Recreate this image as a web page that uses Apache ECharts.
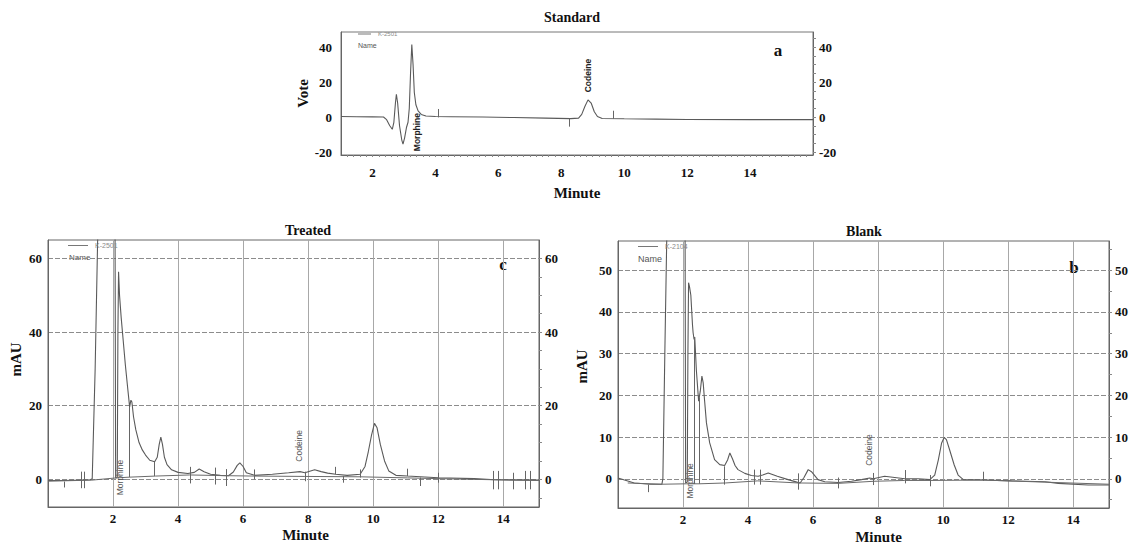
<!DOCTYPE html>
<html><head><meta charset="utf-8">
<script src="https://cdn.jsdelivr.net/npm/echarts@6/dist/echarts.min.js"></script>
<style>html,body{margin:0;padding:0;background:#fff}#c{width:1129px;height:545px}</style>
</head><body><div id="c"></div>
<script>
// ---------- data (minute, signal) ----------
const standardSignal = [[1.0,0.3],[1.5,0.2],[2.0,0.1],[2.35,0],[2.45,-1.5],[2.55,-5],[2.63,-7],[2.68,-3],[2.73,8],[2.76,13],[2.8,8],[2.86,-5],[2.93,-13],[2.97,-15.5],[3.02,-12],[3.08,-6],[3.13,-3],[3.17,5],[3.21,25],[3.25,41.5],[3.29,30],[3.33,14],[3.38,7],[3.45,3.5],[3.55,1.5],[3.7,0.6],[4.0,0.3],[4.5,0.2],[5.5,0],[6.5,-0.3],[7.5,-0.6],[8.3,-0.9],[8.55,-0.6],[8.65,1.5],[8.75,6],[8.85,9.8],[8.95,8],[9.05,3],[9.15,0.3],[9.3,-0.8],[10.0,-1.0],[11.0,-1.2],[12.0,-1.4],[14.0,-1.5],[16.0,-1.5]];
const treatedSignal = [[0,-0.3],[0.5,-0.3],[1.0,-0.2],[1.3,-0.1],[1.36,0.2],[1.45,30],[1.52,62],[1.55,75],[1.7,90],[2.0,90],[2.06,75],[2.08,0.4],[2.13,0.5],[2.15,40],[2.17,56.4],[2.2,50],[2.25,44],[2.31,38],[2.38,31],[2.46,24],[2.51,19.7],[2.55,21.5],[2.58,21],[2.63,17],[2.7,13.5],[2.8,10],[2.9,8],[3.0,6.6],[3.13,5.2],[3.28,4.8],[3.36,6],[3.42,9.5],[3.47,11.5],[3.52,9.5],[3.58,6],[3.66,4],[3.8,2.6],[4.0,1.9],[4.3,1.6],[4.5,1.9],[4.65,2.8],[4.8,2.1],[5.0,1.4],[5.3,1.1],[5.55,1.0],[5.7,2],[5.82,3.8],[5.9,4.5],[6.0,3.5],[6.1,1.8],[6.35,1.1],[6.9,1.4],[7.4,1.8],[7.75,2.1],[7.9,1.8],[8.05,2.2],[8.2,2.6],[8.4,2.1],[8.6,1.7],[8.85,1.4],[9.2,1.1],[9.6,1.4],[9.75,3.5],[9.85,7.5],[9.95,12],[10.04,15.2],[10.12,14],[10.22,9.5],[10.35,5],[10.48,2.3],[10.7,1.1],[11.05,0.9],[12.0,0.45],[13.1,0.2],[13.75,-0.1],[15.1,-0.2]];
const blankSignal = [[0,0.2],[0.2,-0.3],[0.5,-1.0],[1.0,-1.3],[1.35,-1.3],[1.38,0],[1.44,30],[1.5,58],[1.6,80],[2.0,80],[2.06,70],[2.08,-1.0],[2.13,-0.8],[2.15,30],[2.17,47],[2.2,46],[2.24,44],[2.29,37],[2.31,35],[2.34,33.4],[2.36,34],[2.41,26],[2.48,18.6],[2.53,21],[2.58,24.6],[2.62,23],[2.66,19],[2.72,13.4],[2.82,8.6],[2.97,4.6],[3.13,3.4],[3.28,3.2],[3.37,4.5],[3.44,6.2],[3.52,4.8],[3.6,3.2],[3.69,2.2],[3.9,1.3],[4.1,0.8],[4.31,0.6],[4.45,0.9],[4.62,1.4],[4.9,0.6],[5.23,-0.2],[5.5,-0.8],[5.6,-1.0],[5.72,0.3],[5.85,2.2],[5.95,1.7],[6.15,-0.2],[6.36,-0.7],[6.77,-0.9],[7.18,-0.6],[7.49,-0.2],[7.74,0.2],[7.85,0],[8.2,0.6],[8.51,0.3],[8.82,0],[9.23,0],[9.59,-0.2],[9.74,0.9],[9.85,4.5],[9.95,8.5],[10.03,9.9],[10.1,9.4],[10.2,6.9],[10.34,3.3],[10.46,0.9],[10.62,-0.2],[11.23,-0.3],[12.1,-0.5],[13.13,-0.7],[13.54,-1.1],[14.46,-1.5],[15.1,-1.5]];
const treatedBaseline = [[0,-0.5],[1.35,-0.2],[2.1,0.4],[2.5,0.6],[3.3,0.9],[4.36,1.2],[5.5,1.0],[6.35,0.9],[7.9,0.8],[9.6,0.7],[11.05,0.4],[12,0.2],[13.7,-0.1],[15.1,-0.3]];
const blankBaseline = [[0.3,-1.0],[1.35,-1.3],[2.1,-1.2],[2.5,-1.2],[3.3,-1.0],[4.3,-0.5],[5.55,-1.0],[6.77,-1.1],[7.85,-0.6],[8.82,-0.4],[9.6,-0.4],[11.23,-0.3],[13.5,-0.9],[15.1,-1.3]];
// integration marks: [minute, from, to]
const standardMarks = [[4.1,-0.2,4.6],[8.25,-5.5,-1],[9.64,-1,3.6]];
const treatedMarks = [[0.51,-2.2,-0.6],[1.03,-2.4,2.1],[1.13,-2.4,2.1],[2.51,0.6,19.7],[3.28,0.9,4.8],[4.36,-1.1,3.4],[5.13,-1.4,3.2],[5.49,-1.8,2.8],[6.35,0,2.7],[7.9,-0.5,2.1],[8.83,1.4,3.4],[9.09,-0.9,0.9],[9.6,0.5,2.7],[11.05,0.9,2.9],[11.46,-1.8,0.5],[12.0,-0.9,1.8],[13.69,-2.7,2.3],[13.85,-2.7,2.3],[14.31,-2.7,1.8],[14.67,-2.7,2.3],[14.83,-2.7,2.3]];
const blankMarks = [[0.92,-3.2,-1.4],[2.36,-1.2,34],[2.51,-1.2,19.5],[3.28,-1.4,3],[4.2,-1.4,2.2],[4.36,-1.4,2.2],[5.54,-2.6,1.3],[6.77,-2.3,0.3],[7.85,-1.5,1.4],[8.82,-1.1,2.1],[9.59,-1.8,0.9],[11.23,-0.5,1.7]];
// peak labels: [name, minute, position]
const standardPeaks = [['Morphine',3.4,-8.6],['Codeine',8.85,23.7]];
const treatedPeaks = [['Morphine',2.22,0.5],['Codeine',7.73,9.1]];
const blankPeaks = [['Morphine',2.2,-0.5],['Codeine',7.72,6.9]];
// tick labels
const minuteTicks = [2,4,6,8,10,12,14];
const standardYTicks = [-20,0,20,40];
const treatedYTicks = [0,20,40,60];
const blankYTicks = [0,10,20,30,40,50];
const legendNames = {Standard:'K-2501', Treated:'K-2501', Blank:'K-2104'};

// ---------- helpers ----------
const SERIF = '"Liberation Serif","DejaVu Serif",serif';
const SANS = '"Liberation Sans","DejaVu Sans",sans-serif';
function steps(a,b,s){const o=[];for(let v=a;v<=b+1e-9;v+=s)o.push(+v.toFixed(3));return o;}
const lblStyle = {fontFamily:SERIF,fontWeight:'bold',fontSize:13,color:'#111'};
const nameStyle = {fontFamily:SERIF,fontWeight:'bold',fontSize:15,color:'#111'};

function xAxisCfg(gi,min,max,margin,nameGap,namePad,grid,minor){
  return {type:'value',gridIndex:gi,min,max,position:'bottom',
    name:'Minute',nameLocation:'middle',nameGap,nameTextStyle:Object.assign({padding:namePad},nameStyle),
    axisLine:{show:true,onZero:false,lineStyle:{color:'#666'}},
    axisTick:{show:!!minor,customValues:minor||minuteTicks,length:2,lineStyle:{color:'#888'}},
    axisLabel:Object.assign({customValues:minuteTicks,margin},lblStyle),
    splitLine:{show:grid,lineStyle:{color:'#a8a8a8',width:1}}};
}
function yLeft(gi,min,max,ticks,name,nameGap,namePad,margin,grid){
  return {type:'value',gridIndex:gi,min,max,position:'left',
    name,nameLocation:'middle',nameGap,nameTextStyle:Object.assign({padding:namePad},nameStyle),
    axisLine:{show:true,lineStyle:{color:'#666'}},
    axisTick:{show:false,customValues:ticks},
    axisLabel:Object.assign({customValues:ticks,margin},lblStyle),
    splitLine:{show:grid,lineStyle:{color:'#8c8c8c',width:1,type:[5,2]}}};
}
function yRight(gi,min,max,ticks,minor,margin){
  return {type:'value',gridIndex:gi,min,max,position:'right',
    axisLine:{show:true,lineStyle:{color:'#666'}},
    axisTick:{show:true,customValues:minor,length:3,lineStyle:{color:'#888'}},
    axisLabel:Object.assign({customValues:ticks,margin},lblStyle),
    splitLine:{show:false}};
}
function marks(list){
  return {symbol:['none','none'],silent:true,animation:false,label:{show:false},
    lineStyle:{color:'#666',width:1,type:'solid'},
    data:list.map(m=>[{coord:[m[0],m[1]]},{coord:[m[0],m[2]]}])};
}
function peaks(list,style){
  return {symbol:'circle',symbolSize:0,silent:true,animation:false,
    label:Object.assign({show:true,position:'inside',rotate:90,formatter:'{b}'},style),
    data:list.map(p=>({name:p[0],coord:[p[1],p[2]]}))};
}
function signal(name,gi,data,extra){
  return Object.assign({name,type:'line',xAxisIndex:gi,yAxisIndex:gi*2,data,showSymbol:false,symbol:'none',
    lineStyle:{color:'#5a5a5a',width:1.1},itemStyle:{color:'#5a5a5a'},animation:false,z:3},extra);
}
function txt(x,y,text,font,fill,align){
  return {type:'text',x,y,silent:true,style:{text,font,fill:fill||'#111',align:align||'center',textAlign:align||'center',verticalAlign:'middle',textVerticalAlign:'middle'}};
}
function legendCfg(name,left,top,w,fs){
  return {data:[{name,icon:'rect'}],left,top,padding:0,itemWidth:w,itemHeight:1,itemGap:0,
    formatter:n=>legendNames[n],textStyle:{fontSize:fs,color:'#8a8a8a',fontFamily:SANS,padding:[0,0,0,2]},
    itemStyle:{color:'#777'},selectedMode:false};
}

const chart = echarts.init(document.getElementById('c'),null,{renderer:'svg'});
chart.setOption({
  backgroundColor:'#fff',
  animation:false,
  grid:[
    {left:341,top:32,width:472,height:123,show:true,borderColor:'#777',borderWidth:1,outerBoundsMode:'none',containLabel:false},
    {left:48,top:240,width:491,height:267,show:true,borderColor:'#666',borderWidth:1,outerBoundsMode:'none',containLabel:false},
    {left:618,top:241,width:491,height:267,show:true,borderColor:'#666',borderWidth:1,outerBoundsMode:'none',containLabel:false}
  ],
  xAxis:[
    xAxisCfg(0,1,16,11,30,[0,0,0,0],false,steps(1.2,15.8,0.2)),
    xAxisCfg(1,0,15.1,5,20,[0,0,0,24],true,null),
    xAxisCfg(2,0,15.1,5,21,[0,0,0,30],true,null)
  ],
  yAxis:[
    yLeft(0,-21.7,48.6,standardYTicks,'Vote',28,[0,0,0,0],9,false),
    yRight(0,-21.7,48.6,standardYTicks,steps(-20,45,5),6),
    yLeft(1,-7.5,65,treatedYTicks,'mAU',25,[0,0,0,28],6,true),
    yRight(1,-7.5,65,treatedYTicks,steps(-5,64,5),6),
    yLeft(2,-7,57,blankYTicks,'mAU',29,[0,0,0,16],6,true),
    yRight(2,-7,57,blankYTicks,steps(-5,55,5),6)
  ],
  legend:[
    legendCfg('Standard',358,31,13,6),
    legendCfg('Treated',68,242,20,7),
    legendCfg('Blank',638,243,20,7)
  ],
  graphic:[
    txt(572,17,'Standard','bold 14px '+SERIF),
    txt(308,230,'Treated','bold 14px '+SERIF),
    txt(864,231,'Blank','bold 14px '+SERIF),
    txt(778,50,'a','bold 17px '+SERIF),
    txt(503,264,'c','bold 17px '+SERIF),
    txt(1074,267,'b','bold 17px '+SERIF),
    txt(358,45,'Name','7px '+SANS,'#555','left'),
    txt(69,257,'Name','8px '+SANS,'#555','left'),
    txt(638,259,'Name','9px '+SANS,'#555','left')
  ],
  series:[
    signal('Standard',0,standardSignal,{markLine:marks(standardMarks),markPoint:peaks(standardPeaks,{fontFamily:SANS,fontWeight:'bold',fontSize:8.5,color:'#222'})}),
    signal('Treated',1,treatedSignal,{markPoint:peaks(treatedPeaks,{fontFamily:SANS,fontSize:8.5,color:'#555'})}),
    {name:'Treated baseline',type:'line',xAxisIndex:1,yAxisIndex:2,data:treatedBaseline,showSymbol:false,symbol:'none',lineStyle:{color:'#6a6a6a',width:1},animation:false,markLine:marks(treatedMarks)},
    signal('Blank',2,blankSignal,{markPoint:peaks(blankPeaks,{fontFamily:SANS,fontSize:8.5,color:'#555'})}),
    {name:'Blank baseline',type:'line',xAxisIndex:2,yAxisIndex:4,data:blankBaseline,showSymbol:false,symbol:'none',lineStyle:{color:'#6a6a6a',width:1},animation:false,markLine:marks(blankMarks)}
  ]
});
</script></body></html>
